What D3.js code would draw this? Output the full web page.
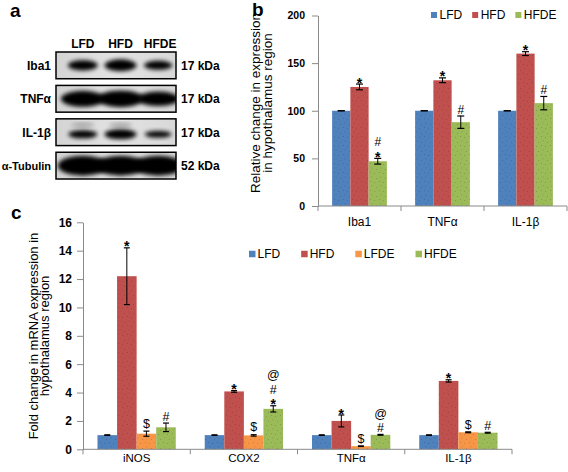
<!DOCTYPE html>
<html><head><meta charset="utf-8">
<script src="https://cdn.jsdelivr.net/npm/d3@7"></script>
<style>body{margin:0;background:#fff}svg{display:block}</style>
</head><body><svg width="568" height="472"></svg>
<script>
const FONT = '"Liberation Sans", Arial, sans-serif';

// ---------- Panel a: western blot ----------
const blotRows = ["Iba1", "TNFα", "IL-1β", "α-Tubulin"];
const blotLanes = ["LFD", "HFD", "HFDE"];
const blotKDa = ["17 kDa", "17 kDa", "17 kDa", "52 kDa"];
const blotIba1 = [0.85, 1.0, 0.75];
const blotTNFa = [1.0, 1.05, 0.9];
const blotIL1b = [0.8, 1.0, 0.65];
const blotTubulin = [1.0, 1.0, 1.0];

// ---------- Panel b ----------
const bCategories = ["Iba1", "TNFα", "IL-1β"];
const bSeries = ["LFD", "HFD", "HFDE"];
const bLFD = [100, 100, 100];
const bHFD = [125, 132, 160];
const bHFDE = [47, 88, 108];
const bErrLFD = [0, 0, 0];
const bErrHFD = [3, 2.5, 2];
const bErrHFDE = [3, 6.5, 7];
const bMarksLFD = [[], [], []];
const bMarksHFD = [["*"], ["*"], ["*"]];
const bMarksHFDE = [["*", "#"], ["#"], ["#"]];
const bTicks = [0, 50, 100, 150, 200];

// ---------- Panel c ----------
const cCategories = ["iNOS", "COX2", "TNFα", "IL-1β"];
const cSeries = ["LFD", "HFD", "LFDE", "HFDE"];
const cLFD = [1, 1, 1, 1];
const cHFD = [12.2, 4.08, 2.0, 4.82];
const cLFDE = [1.1, 0.98, 0.22, 1.2];
const cHFDE = [1.55, 2.85, 1.02, 1.17];
const cErrLFD = [0.02, 0.02, 0.02, 0.02];
const cErrHFD = [2.0, 0.06, 0.42, 0.08];
const cErrLFDE = [0.18, 0.05, 0.02, 0.03];
const cErrHFDE = [0.3, 0.22, 0.03, 0.03];
const cMarksLFD = [[], [], [], []];
const cMarksHFD = [["*"], ["*"], ["*"], ["*"]];
const cMarksLFDE = [["$"], ["$"], ["$"], ["$"]];
const cMarksHFDE = [["#"], ["*", "#", "@"], ["#", "@"], ["#"]];
const cTicks = [0, 2, 4, 6, 8, 10, 12, 14, 16];

const seriesColors = {LFD: "#4f81bd", HFD: "#c0504d", LFDE: "#f79646", HFDE: "#9bbb59"};

const svg = d3.select("svg");
const defs = svg.append("defs");
Object.entries(seriesColors).forEach(([k, c]) => {
  const p = defs.append("pattern").attr("id", "pat-" + k)
    .attr("patternUnits", "userSpaceOnUse").attr("width", 9).attr("height", 9);
  p.append("rect").attr("width", 9).attr("height", 9).attr("fill", c);
  [[1, 1], [5, 2], [2.5, 5.5], [7, 7]].forEach(([x, y]) =>
    p.append("rect").attr("x", x).attr("y", y).attr("width", 0.9).attr("height", 0.9)
      .attr("fill", d3.color(c).darker(1.3)).attr("opacity", 0.55));
});
const blur = defs.append("filter").attr("id", "blur")
  .attr("x", "-50%").attr("y", "-50%").attr("width", "200%").attr("height", "200%");
blur.append("feGaussianBlur").attr("stdDeviation", 2.2);
const bg = defs.append("linearGradient").attr("id", "blotbg").attr("x1", 0).attr("x2", 1);
bg.append("stop").attr("offset", 0).attr("stop-color", "#d4d4d4");
bg.append("stop").attr("offset", 0.5).attr("stop-color", "#e3e3e3");
bg.append("stop").attr("offset", 1).attr("stop-color", "#d8d8d8");

function txt(g, x, y, s, size, opts = {}) {
  return g.append("text").attr("x", x).attr("y", y).text(s)
    .attr("font-family", FONT).attr("font-size", size)
    .attr("font-weight", opts.bold ? "bold" : "normal")
    .attr("text-anchor", opts.anchor || "start").attr("fill", "#000");
}

// ---------- Draw panel a ----------
(function () {
  const g = svg.append("g");
  txt(g, 10, 17, "a", 19, {bold: true});
  const rowY = d3.scaleBand().domain(blotRows).range([52, 179]).paddingInner(0.2);
  const laneX = d3.scaleBand().domain(blotLanes).range([64, 177]);
  const boxX0 = 56, boxX1 = 176;
  const bands = [blotIba1, blotTNFa, blotIL1b, blotTubulin];
  const bandW = [32, 44, 32, 50];
  const bandH = [12, 16, 10, 20];
  blotLanes.forEach(l => txt(g, laneX(l) + laneX.bandwidth() / 2 + (l === "HFDE" ? 2 : 0), 48, l, 12, {bold: true, anchor: "middle"}));
  blotRows.forEach((r, ri) => {
    const y0 = rowY(r), h = rowY.bandwidth();
    const clipId = "clip" + ri;
    defs.append("clipPath").attr("id", clipId).append("rect")
      .attr("x", boxX0).attr("y", y0).attr("width", boxX1 - boxX0).attr("height", h);
    const rg = g.append("g").attr("clip-path", `url(#${clipId})`);
    rg.append("rect").attr("x", boxX0).attr("y", y0).attr("width", boxX1 - boxX0).attr("height", h)
      .attr("fill", "url(#blotbg)");
    if (ri === 2) {
      blotLanes.slice(0, 2).forEach(l => rg.append("ellipse")
        .attr("cx", laneX(l) + laneX.bandwidth() / 2).attr("cy", y0 + h * 0.22)
        .attr("rx", 12).attr("ry", 1.5).attr("fill", "#888").attr("filter", "url(#blur)"));
    }
    bands[ri].forEach((v, li) => {
      const l = blotLanes[li];
      rg.append("ellipse")
        .attr("cx", laneX(l) + laneX.bandwidth() / 2)
        .attr("cy", y0 + h * (ri === 2 ? 0.58 : 0.5))
        .attr("rx", bandW[ri] * (0.55 + 0.45 * v) / 2)
        .attr("ry", bandH[ri] * v / 2)
        .attr("fill", "#060606").attr("filter", "url(#blur)");
    });
    g.append("rect").attr("x", boxX0).attr("y", y0).attr("width", boxX1 - boxX0).attr("height", h)
      .attr("fill", "none").attr("stroke", "#000").attr("stroke-width", 1.5);
    txt(g, 51, y0 + h / 2 + 4.3, r, ri === 3 ? 11 : 12, {bold: true, anchor: "end"});
    txt(g, 181, y0 + h / 2 + 4.3, blotKDa[ri], 12, {bold: true});
  });
})();

// ---------- Generic grouped bar chart ----------
function barChart(cfg) {
  const g = svg.append("g");
  const x0 = d3.scaleBand().domain(cfg.categories).range(cfg.xRange);
  const gw = x0.bandwidth() * cfg.groupFrac;
  const x1 = d3.scaleBand().domain(cfg.series)
    .range([(x0.bandwidth() - gw) / 2, (x0.bandwidth() + gw) / 2]);
  const y = d3.scaleLinear().domain(cfg.yDomain).range(cfg.yRange);
  const axisColor = "#8a8a8a";

  cfg.series.forEach((s, si) => {
    g.append("g").selectAll("rect").data(cfg.values[si]).join("rect")
      .attr("x", (d, i) => x0(cfg.categories[i]) + x1(s))
      .attr("y", d => y(d))
      .attr("width", x1.bandwidth())
      .attr("height", d => y(0) - y(d))
      .attr("fill", `url(#pat-${s})`);
  });

  const ya = g.append("g").attr("transform", `translate(${cfg.xRange[0]},0)`)
    .call(d3.axisLeft(y).tickValues(cfg.ticks).tickSize(6).tickSizeOuter(0).tickPadding(cfg.tickPad));
  ya.attr("font-family", FONT).attr("font-size", cfg.tickFont).attr("font-weight", "bold").attr("color", "#000");
  ya.select(".domain").attr("stroke", axisColor);
  ya.selectAll(".tick line").attr("stroke", axisColor);

  g.append("line").attr("x1", cfg.xRange[0]).attr("x2", cfg.xRange[1])
    .attr("y1", y(0)).attr("y2", y(0)).attr("stroke", axisColor);
  const bounds = cfg.categories.map(c => x0(c)).concat([cfg.xRange[1]]);
  g.selectAll(".bt").data(bounds).join("line")
    .attr("x1", d => d).attr("x2", d => d).attr("y1", y(0)).attr("y2", y(0) + 5)
    .attr("stroke", axisColor);
  const xa = g.append("g").attr("transform", `translate(0,${y(0)})`)
    .call(d3.axisBottom(x0).tickSize(0).tickPadding(cfg.catPad));
  xa.attr("font-family", FONT).attr("font-size", cfg.catFont).attr("color", "#000");
  xa.select(".domain").remove();

  cfg.series.forEach((s, si) => {
    cfg.values[si].forEach((v, i) => {
      const cx = x0(cfg.categories[i]) + x1(s) + x1.bandwidth() / 2;
      const e = cfg.errs[si][i];
      const yt = y(v + e), yb = y(v - e);
      g.append("line").attr("x1", cx).attr("x2", cx).attr("y1", yt).attr("y2", yb).attr("stroke", "#000");
      [yt, yb].forEach(yy => g.append("line").attr("x1", cx - cfg.capW / 2).attr("x2", cx + cfg.capW / 2)
        .attr("y1", yy).attr("y2", yy).attr("stroke", "#000").attr("stroke-width", 1.2));
      let cur = yt - 2;
      (cfg.marks[si][i] || []).forEach(m => {
        if (m === "*") {
          const fs = cfg.starFont;
          const base = cur + 0.4 * fs;
          txt(g, cx, base, m, fs, {bold: true, anchor: "middle"});
          cur = base - 0.72 * fs - 5.5;
        } else {
          const fs = cfg.markFont;
          const base = cur - (m === "@" ? 0.2 * fs : m === "$" ? 0.1 * fs : 0);
          txt(g, cx, base, m, fs, {anchor: "middle"});
          cur = base - 0.74 * fs - 3;
        }
      });
    });
  });

  cfg.yLabel.forEach((t, li) => {
    txt(g, 0, 0, t, cfg.yLabelFont, {anchor: "middle"})
      .attr("transform", `translate(${cfg.yLabelX[li]},${cfg.yLabelY}) rotate(-90)`);
  });

  let lx = cfg.legend.x;
  cfg.series.forEach(s => {
    g.append("rect").attr("x", lx).attr("y", cfg.legend.y - cfg.legend.sq / 2)
      .attr("width", cfg.legend.sq).attr("height", cfg.legend.sq).attr("fill", seriesColors[s]);
    const t = txt(g, lx + cfg.legend.sq + cfg.legend.gap1, cfg.legend.y + cfg.legend.font * 0.36, s, cfg.legend.font);
    lx += cfg.legend.sq + cfg.legend.gap1 + t.node().getComputedTextLength() + cfg.legend.gap2;
  });
  return g;
}

const gb = barChart({
  categories: bCategories, series: bSeries,
  values: [bLFD, bHFD, bHFDE], errs: [bErrLFD, bErrHFD, bErrHFDE],
  marks: [bMarksLFD, bMarksHFD, bMarksHFDE],
  yDomain: [0, 200], yRange: [206, 15.5], xRange: [318, 567],
  groupFrac: 0.66, capW: 7, ticks: bTicks, tickFont: 10.5, tickPad: 7, catFont: 12, catPad: 11,
  starFont: 14, markFont: 12,
  yLabel: ["Relative change in expression", "in hypothalamus region"],
  yLabelX: [259.5, 271.5], yLabelY: 103, yLabelFont: 13.5,
  legend: {x: 431, y: 15, sq: 6, gap1: 2.5, gap2: 10, font: 12}
});
txt(gb, 252, 16, "b", 19, {bold: true});

const gc = barChart({
  categories: cCategories, series: cSeries,
  values: [cLFD, cHFD, cLFDE, cHFDE], errs: [cErrLFD, cErrHFD, cErrLFDE, cErrHFDE],
  marks: [cMarksLFD, cMarksHFD, cMarksLFDE, cMarksHFDE],
  yDomain: [0, 16], yRange: [449.3, 222.3], xRange: [83, 512],
  groupFrac: 0.73, capW: 6, ticks: cTicks, tickFont: 12, tickPad: 5, catFont: 11.5, catPad: 5,
  starFont: 14, markFont: 12.5,
  yLabel: ["Fold change in mRNA expression in", "hypothalamus region"],
  yLabelX: [37.5, 48.5], yLabelY: 336, yLabelFont: 13,
  legend: {x: 249, y: 254, sq: 6.5, gap1: 2, gap2: 21, font: 12}
});
txt(gc, 11, 219, "c", 19, {bold: true});
</script></body></html>
